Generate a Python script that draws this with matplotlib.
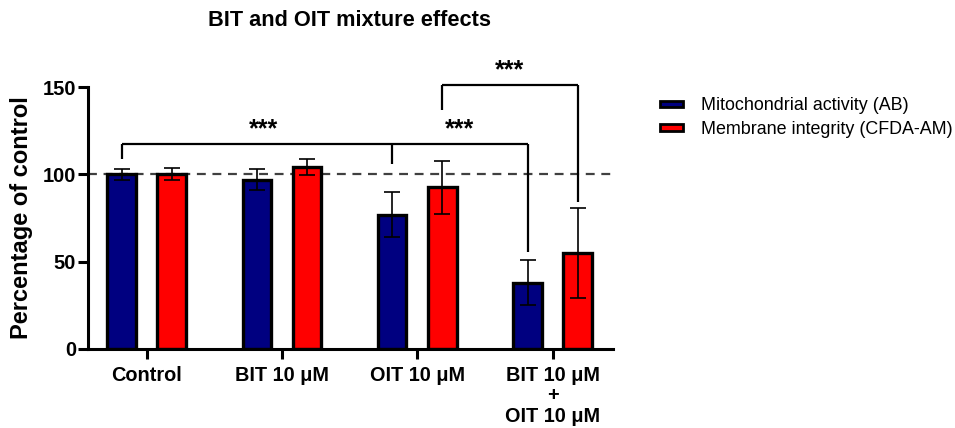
import matplotlib
matplotlib.use("Agg")
import matplotlib.pyplot as plt
from matplotlib.patches import Patch
import numpy as np

plt.rcParams['font.family'] = ['Liberation Sans', 'DejaVu Sans']

# group labels and means / SD for both assays (% of control)
groups = ['Control', 'BIT 10 μM', 'OIT 10 μM', 'BIT 10 μM\n+\nOIT 10 μM']
mito_mean = [100, 97, 77, 38]
mito_sd = [3, 6, 13, 12.7]
memb_mean = [100, 104, 92.5, 55]
memb_sd = [3.4, 4.5, 15, 25.7]
series_names = ['Mitochondrial activity (AB)', 'Membrane integrity (CFDA-AM)']
series_colors = ['#000080', '#FF0000']

fig = plt.figure(figsize=(9.55, 4.28), dpi=100)
ax = fig.add_axes([0.0921, 0.1846, 0.5497, 0.6121])

x = np.arange(len(groups))
off = 0.185
w = 0.21
for k, (means, sds) in enumerate([(mito_mean, mito_sd), (memb_mean, memb_sd)]):
    xs = x + (-off if k == 0 else off)
    ax.bar(xs, means, width=w, color=series_colors[k], edgecolor='black',
           linewidth=2.4, zorder=2)
    ax.errorbar(xs, means, yerr=sds, fmt='none', ecolor='black', elinewidth=1.2,
                capsize=6, capthick=1.2, zorder=3)

# reference line at 100 %
ax.axhline(100, color='#404040', lw=1.6, ls=(0, (4, 3)), zorder=1)

# significance brackets
def bracket(xs_, legs, y, lw=1.6):
    ax.plot([xs_[0], xs_[-1]], [y, y], color='black', lw=lw, clip_on=False,
            solid_capstyle='butt', zorder=4)
    for xi, yb in zip(xs_, legs):
        ax.plot([xi, xi], [y, yb], color='black', lw=lw, clip_on=False,
                solid_capstyle='butt', zorder=4)

bracket([x[0] - off, x[2] - off, x[3] - off], [108.6, 105.9, 55.7], 117.3)
bracket([x[2] + off, x[3] + off], [136.8, 84.3], 151)
star_kw = dict(ha='center', va='center', fontsize=18, fontweight='bold', clip_on=False)
ax.text(0.86, 125.5, '***', **star_kw)
ax.text((x[2] + x[3]) / 2 - off, 125.5, '***', **star_kw)
ax.text((x[2] + x[3]) / 2 + off, 159.8, '***', **star_kw)

ax.set_xlim(-0.434, 3.446)
ax.set_ylim(0, 150)
ax.set_yticks([0, 50, 100, 150])
ax.set_xticks(x)
ax.set_xticklabels(groups, fontsize=14.3, fontweight='bold', linespacing=1.12)
for lab in ax.get_yticklabels():
    lab.set_fontsize(14.5)
    lab.set_fontweight('bold')
ax.tick_params(axis='both', width=2.2, length=7)
ax.tick_params(axis='x', pad=5)
ax.tick_params(axis='y', pad=1.5)
for side in ['top', 'right']:
    ax.spines[side].set_visible(False)
for side in ['left', 'bottom']:
    ax.spines[side].set_linewidth(2.2)
ax.set_ylabel('Percentage of control', fontsize=17, fontweight='bold', labelpad=7)

fig.text(0.366, 0.953, 'BIT and OIT mixture effects', ha='center', va='center',
         fontsize=15.7, fontweight='bold')

handles = [Patch(facecolor=c, edgecolor='black', linewidth=2) for c in series_colors]
fig.legend(handles=handles, labels=series_names, loc='upper left',
           bbox_to_anchor=(0.674, 0.81), frameon=False, fontsize=12.9,
           handlelength=1.3, handleheight=0.2, handletextpad=1.0,
           labelspacing=0.35)

fig.savefig('out.png', dpi=100)
